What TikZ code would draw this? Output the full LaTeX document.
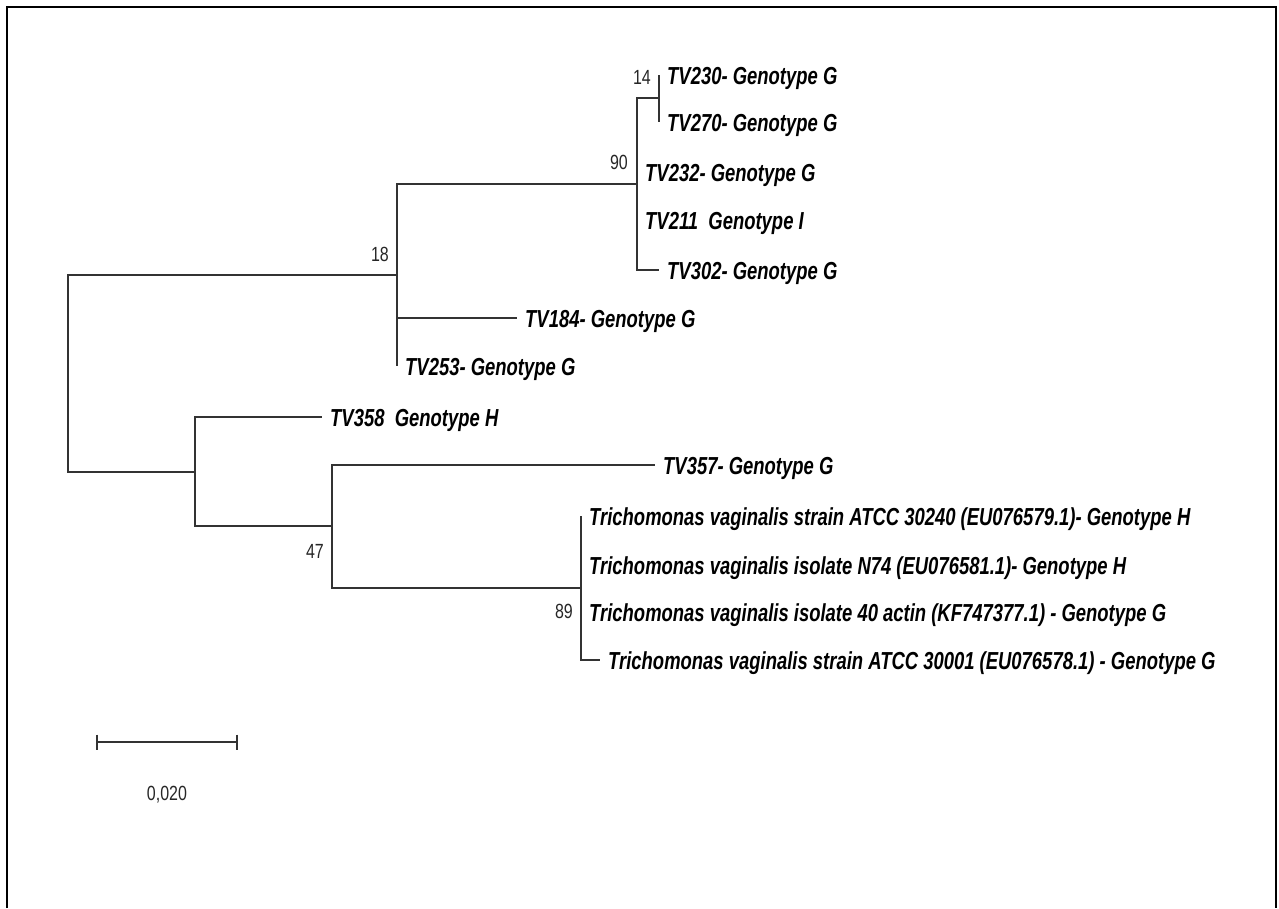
\documentclass[tikz,border=0pt]{standalone}
\usepackage{fontspec}
\setmainfont{Liberation Sans}
\newfontfamily\labfont[FakeStretch=0.75]{Liberation Sans}
\newfontfamily\numfont[FakeStretch=0.78]{Liberation Sans}
\begin{document}
\begin{tikzpicture}[x=1pt,y=-1pt,
  branch/.style={draw=black!80, line width=2pt},
  leaf/.style={anchor=base west, inner sep=0pt, xshift=8pt, yshift=-9pt,
    font=\labfont\bfseries\itshape\fontsize{24.6}{29}\selectfont},
  boot/.style={anchor=east, inner sep=0pt,
    font=\numfont\fontsize{20.5}{24}\selectfont, text=black!85},
  frame/.style={draw=black, line width=2pt}]
\useasboundingbox (0,0) rectangle (1279,908);
\draw[frame] (7,908) -- (7,7) -- (1276,7) -- (1276,908);

% internal nodes
\coordinate (R) at (68,373);
\coordinate (N18) at (397,275);
\coordinate (N90) at (637,184);
\coordinate (N14) at (659,98);
\coordinate (NL) at (195,472);
\coordinate (N47) at (332,526);
\coordinate (N89) at (581,588);
% leaves
\coordinate (L230) at (659,75);
\coordinate (L270) at (659,122);
\coordinate (L232) at (637,172);
\coordinate (L211) at (637,220);
\coordinate (L302) at (659,270);
\coordinate (L184) at (517,318);
\coordinate (L253) at (397,366);
\coordinate (L358) at (322,417);
\coordinate (L357) at (655,465);
\coordinate (T1) at (581,516);
\coordinate (T2) at (581,565);
\coordinate (T3) at (581,612);
\coordinate (T4) at (600,660);

% branches
\draw[branch] (R) |- (N18);
\draw[branch] (R) |- (NL);
\draw[branch] (N18) |- (N90);
\draw[branch] (N18) |- (L184);
\draw[branch] (N18) |- (L253);
\draw[branch] (N90) |- (N14);
\draw[branch] (N90) |- (L232);
\draw[branch] (N90) |- (L211);
\draw[branch] (N90) |- (L302);
\draw[branch] (N14) |- (L230);
\draw[branch] (N14) |- (L270);
\draw[branch] (NL) |- (L358);
\draw[branch] (NL) |- (N47);
\draw[branch] (N47) |- (L357);
\draw[branch] (N47) |- (N89);
\draw[branch] (N89) |- (T1);
\draw[branch] (N89) |- (T2);
\draw[branch] (N89) |- (T3);
\draw[branch] (N89) |- (T4);

% leaf labels
\node[leaf] (tL230) at (L230) {TV230- Genotype G};
\node[leaf] (tL270) at (L270) {TV270- Genotype G};
\node[leaf] (tL232) at (L232) {TV232- Genotype G};
\node[leaf] (tL211) at (L211) {TV211~ Genotype I};
\node[leaf] (tL302) at (L302) {TV302- Genotype G};
\node[leaf] (tL184) at (L184) {TV184- Genotype G};
\node[leaf] (tL253) at (L253) {TV253- Genotype G};
\node[leaf] (tL358) at (L358) {TV358~ Genotype H};
\node[leaf] (tL357) at (L357) {TV357- Genotype G};
\node[leaf] (tT1) at (T1) {Trichomonas vaginalis strain ATCC 30240 (EU076579.1)- Genotype H};
\node[leaf] (tT2) at (T2) {Trichomonas vaginalis isolate N74 (EU076581.1)- Genotype H};
\node[leaf] (tT3) at (T3) {Trichomonas vaginalis isolate 40 actin (KF747377.1) - Genotype G};
\node[leaf] (tT4) at (T4) {Trichomonas vaginalis strain ATCC 30001 (EU076578.1) - Genotype G};

% bootstrap values
\node[boot] (b14) at (651,77) {14};
\node[boot] (b90) at (628,162) {90};
\node[boot] (b18) at (389,254) {18};
\node[boot] (b47) at (324,551) {47};
\node[boot] (b89) at (573,611) {89};

% scale bar
\coordinate (S1) at (97,742);
\coordinate (S2) at (237,742);
\draw[branch] (S1) -- (S2);
\draw[branch] ([yshift=7.5pt]S1) -- ([yshift=-7.5pt]S1);
\draw[branch] ([yshift=7.5pt]S2) -- ([yshift=-7.5pt]S2);
\node[boot, anchor=center] (sl) at (167,795) {0,020};
\end{tikzpicture}
\end{document}
